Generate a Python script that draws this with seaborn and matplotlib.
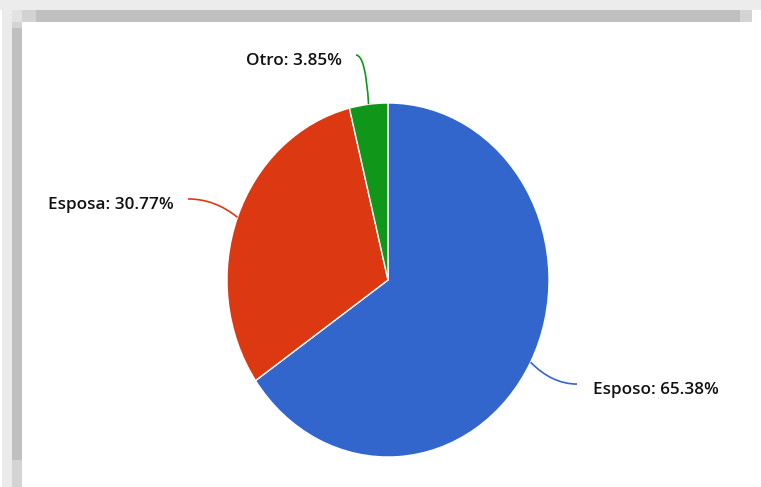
import numpy as np
import matplotlib
matplotlib.use("Agg")
import matplotlib.pyplot as plt
from matplotlib.patches import Rectangle, PathPatch
from matplotlib.path import Path
import seaborn as sns

# Data
categories = ["Esposo", "Esposa", "Otro"]
values = [65.38, 30.77, 3.85]
colors = ["#3366cc", "#dc3912", "#109618"]

sns.set_theme(style="white")
plt.rcParams["font.family"] = ["Open Sans", "DejaVu Sans"]

W, H = 761, 487
fig = plt.figure(figsize=(W / 100, H / 100), dpi=100)
fig.patch.set_facecolor("white")

# Pie occupies an ellipse: x radius 161 px, y radius 177 px, centred at (388, 280) px
cx, cy, rx, ry = 388, 280, 161, 177
ax = fig.add_axes([0, 0, 1, 1])

palette = sns.color_palette(colors)
wedges, _ = ax.pie(values, colors=palette, startangle=90, counterclock=False,
                   radius=1.0, center=(0, 0), frame=True,
                   wedgeprops=dict(edgecolor="white", linewidth=1.0))
ax.set_xlim(-cx / rx, (W - cx) / rx)
ax.set_ylim(-(H - cy) / ry, cy / ry)
ax.set_aspect("auto")
ax.axis("off")

# Leader-line end points and text alignment for each label (axes data units)
label_layout = {
    "Esposo": dict(end=(1.174, -0.588), ha="left", gap=0.10),
    "Esposa": dict(end=(-1.242, 0.458), ha="right", gap=-0.087),
    "Otro": dict(end=(-0.199, 1.271), ha="right", gap=-0.087),
}

cum = 0.0
total = sum(values)
for name, val, col in zip(categories, values, colors):
    mid = np.deg2rad(90 - 360 * (cum + val / 2) / total)
    cum += val
    p0 = (np.cos(mid), np.sin(mid))
    lay = label_layout[name]
    end = lay["end"]
    ctrl = (1.15 * np.cos(mid), end[1])
    path = Path([p0, ctrl, end], [Path.MOVETO, Path.CURVE3, Path.CURVE3])
    ax.add_patch(PathPatch(path, fill=False, edgecolor=col, linewidth=1.2,
                           clip_on=False))
    ax.text(end[0] + lay["gap"], end[1] - 0.032, f"{name}: {val:.2f}%",
            ha=lay["ha"], va="center", fontsize=12.3, fontweight="semibold",
            color="#111111")


def band(x, y, w, h, color):
    fig.add_artist(Rectangle((x / W, 1 - (y + h) / H), w / W, h / H,
                             transform=fig.transFigure, facecolor=color,
                             edgecolor="none", zorder=0))


# Frame shadow along the top and left edges
band(0, 0, W, 10, "#ececec")
band(2, 10, 10, H - 10, "#ebebeb")
band(12, 10, 10, 12, "#e2e2e2")
band(22, 10, 14, 12, "#d2d2d2")
band(36, 10, 704, 12, "#c0c0c0")
band(740, 10, 12, 12, "#d4d4d4")
band(12, 22, 10, 6, "#d4d4d4")
band(12, 28, 10, 432, "#c0c0c0")
band(12, 460, 10, 27, "#d4d4d4")

fig.savefig("out.png", dpi=100)
